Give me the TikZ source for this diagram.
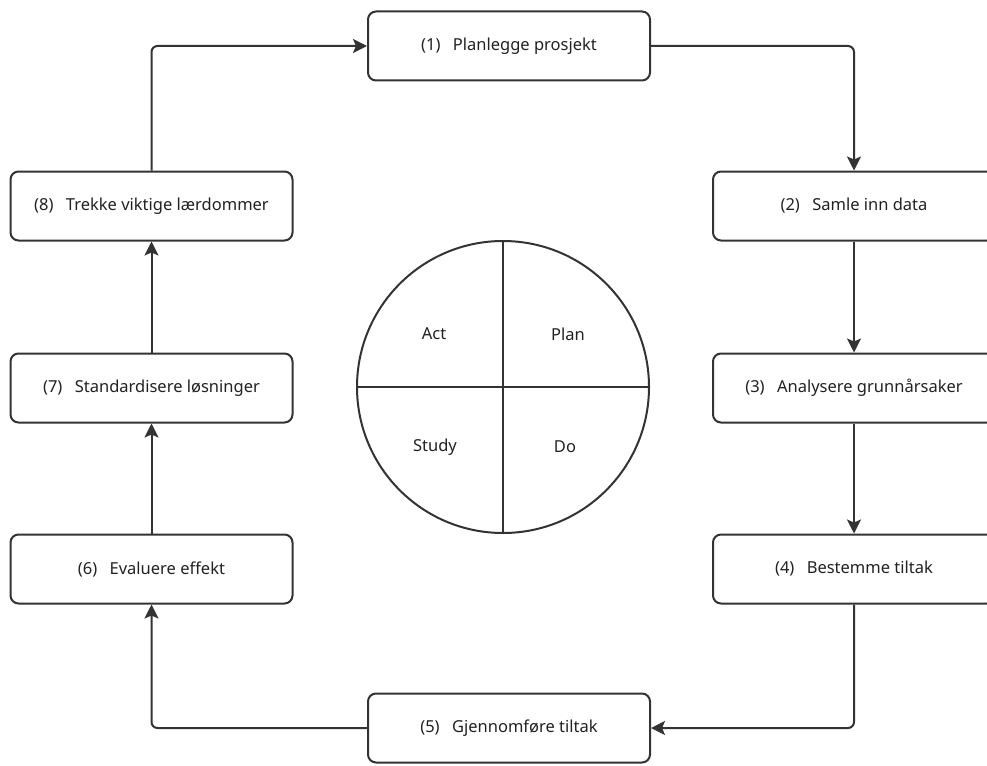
\documentclass[tikz,border=0pt]{standalone}
\usepackage{fontspec}
\setmainfont{Noto Sans}
\usepackage{tikz}
\usepackage{xcolor}
\usetikzlibrary{shapes,arrows.meta,positioning}

\definecolor{strek}{HTML}{333333}
\definecolor{tekst}{HTML}{222222}
\newcommand{\nrtekst}[2]{(#1)\hspace{0.75em}#2}

\begin{document}
\begin{tikzpicture}[x=1pt,y=-1pt,
        trinn/.style={rectangle, draw=strek, line width=2pt, rounded corners=8pt, fill=white,
            minimum width=282pt, minimum height=69pt, inner sep=0pt, text=tekst,
            font=\fontsize{16.5}{20}\selectfont},
        pil/.style={draw=strek, line width=2pt, rounded corners=6pt,
            -{Stealth[length=14pt,width=14pt,inset=3pt]}},
        felt/.style={text=tekst, font=\fontsize{16.5}{20}\selectfont}]
            \clip (0,0) rectangle (987,765);
            \fill[white] (0,0) rectangle (987,765);

            % trinnene
            \node[trinn] (b1) at (509,46) {\nrtekst{1}{Planlegge prosjekt}};
            \node[trinn] (b2) at (854,206) {\nrtekst{2}{Samle inn data}};
            \node[trinn] (b3) at (854,388) {\nrtekst{3}{Analysere grunnårsaker}};
            \node[trinn] (b4) at (854,569) {\nrtekst{4}{Bestemme tiltak}};
            \node[trinn] (b5) at (509,728) {\nrtekst{5}{Gjennomføre tiltak}};
            \node[trinn] (b6) at (151.5,569) {\nrtekst{6}{Evaluere effekt}};
            \node[trinn] (b7) at (151.5,388) {\nrtekst{7}{Standardisere løsninger}};
            \node[trinn] (b8) at (151.5,206) {\nrtekst{8}{Trekke viktige lærdommer}};

            % PDSA-sirkelen
            \node[circle, draw=strek, line width=2pt, minimum size=292pt, inner sep=0pt] (syklus) at (503,387) {};
            \draw[strek, line width=2pt] (syklus.north) -- (syklus.south);
            \draw[strek, line width=2pt] (syklus.west) -- (syklus.east);
            \node[felt] (act) at (434,334) {Act};
            \node[felt] (plan) at (568,334) {Plan};
            \node[felt] (study) at (435,447) {Study};
            \node[felt] (do) at (565,447) {Do};

            \draw[pil] (b1.east) -| (b2.north);
            \draw[pil] (b2) -- (b3);
            \draw[pil] (b3) -- (b4);
            \draw[pil] (b4.south) |- (b5.east);
            \draw[pil] (b5.west) -| (b6.south);
            \draw[pil] (b6) -- (b7);
            \draw[pil] (b7) -- (b8);
            \draw[pil] (b8.north) |- (b1.west);
        \end{tikzpicture}
\end{document}
